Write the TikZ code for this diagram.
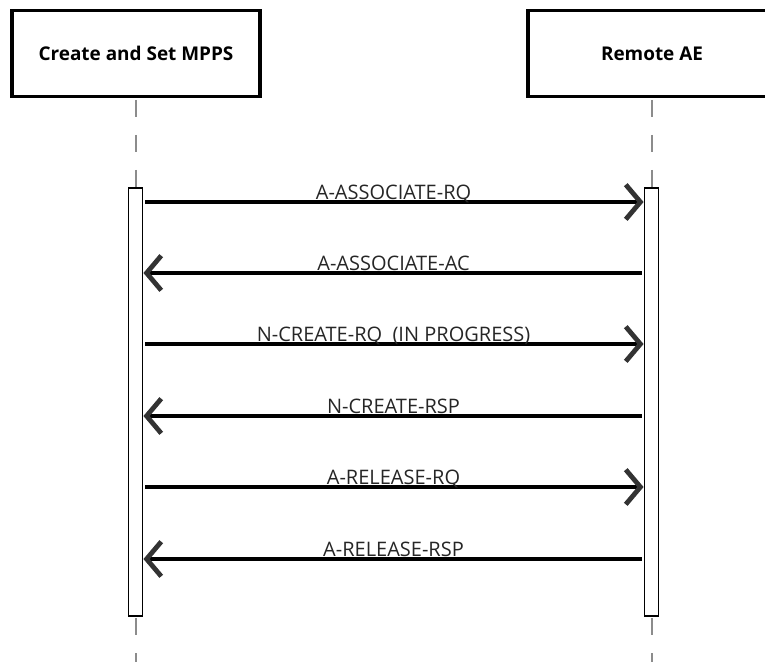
\documentclass[tikz,border=0pt]{standalone}
\usepackage{fontspec}
\setmainfont{Open Sans}
\usetikzlibrary{arrows.meta, positioning, calc}

\tikzset{
  actor/.style={draw=black, line width=2.3pt, fill=white, minimum width=186pt, minimum height=65pt, inner sep=0pt, font=\bfseries\fontsize{14.2}{16}\selectfont},
  activation/.style={draw=black, line width=0.9pt, fill=white, minimum width=11pt, minimum height=321pt, inner sep=0pt},
  lifeline/.style={draw=black!45, line width=1.5pt, dash pattern=on 12.75pt off 13.5pt},
  msg/.style={draw=black, line width=2.3pt, shorten <=1.5pt, -{Straight Barb[length=11pt, width=26pt, line width=3.6pt, black!80]}},
  msglabel/.style={midway, anchor=base, yshift=2.2pt, inner sep=0pt, text=black!85, font=\fontsize{15}{17}\selectfont}
}

\begin{document}
\begin{tikzpicture}[x=0.75pt, y=-0.75pt]
\useasboundingbox (0,0) rectangle (765,662);
\clip (0,0) rectangle (765,662);

% participants
\node[actor] (mpps) at (136,53.5) {Create and Set MPPS};
\node[actor] (remote) at (652,53.5) {Remote AE};

% lifelines (behind the activation bars)
\coordinate (acttop) at (0,188);
\coordinate (actbot) at (0,616);
\coordinate (pagebot) at (0,662);
\draw[lifeline] ($(mpps.south)+(0,1.5)$) -- (mpps.south |- acttop);
\draw[lifeline] ($(mpps.south |- actbot)+(0,2)$) -- (mpps.south |- pagebot);
\draw[lifeline] ($(remote.south)+(0,1.5)$) -- (remote.south |- acttop);
\draw[lifeline] ($(remote.south |- actbot)+(0,2)$) -- (remote.south |- pagebot);

% activation bars
\node[activation] (actL) at (135.5,402) {};
\node[activation] (actR) at (651.5,402) {};

% messages
\coordinate (m1) at (0,202);
\coordinate (m2) at (0,273);
\coordinate (m3) at (0,344);
\coordinate (m4) at (0,416);
\coordinate (m5) at (0,487);
\coordinate (m6) at (0,559);
\draw[msg] (actL.east |- m1) -- (actR.west |- m1) node[msglabel] {A-ASSOCIATE-RQ};
\draw[msg] (actR.west |- m2) -- (actL.east |- m2) node[msglabel] {A-ASSOCIATE-AC};
\draw[msg] (actL.east |- m3) -- (actR.west |- m3) node[msglabel] {N-CREATE-RQ\ \ (IN PROGRESS)};
\draw[msg] (actR.west |- m4) -- (actL.east |- m4) node[msglabel] {N-CREATE-RSP};
\draw[msg] (actL.east |- m5) -- (actR.west |- m5) node[msglabel] {A-RELEASE-RQ};
\draw[msg] (actR.west |- m6) -- (actL.east |- m6) node[msglabel] {A-RELEASE-RSP};
\end{tikzpicture}
\end{document}
